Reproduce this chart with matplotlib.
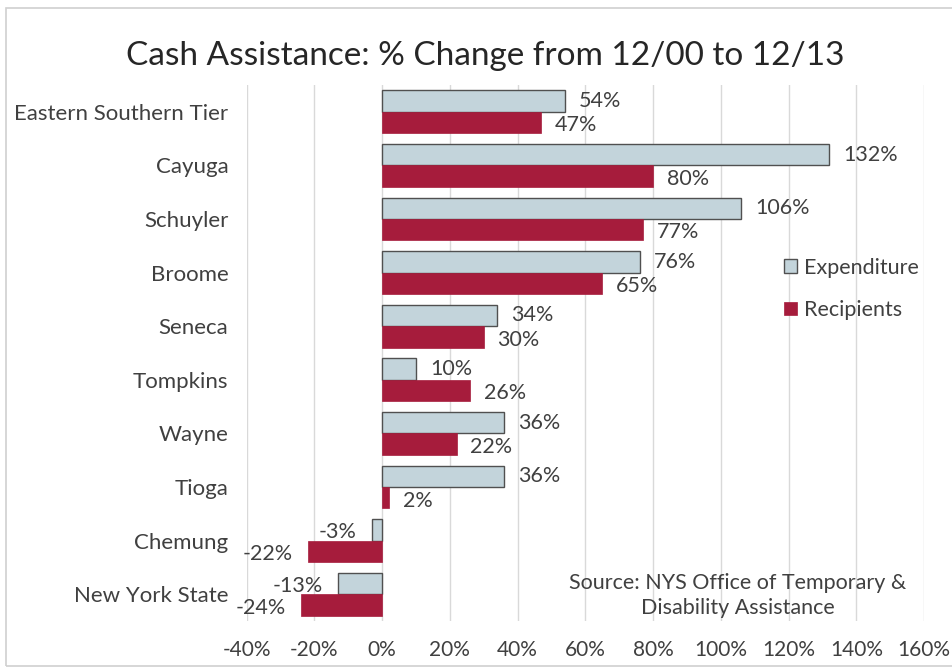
import numpy as np
import matplotlib.pyplot as plt
from matplotlib.patches import Rectangle

# Data
regions = ["Eastern Southern Tier", "Cayuga", "Schuyler", "Broome", "Seneca",
           "Tompkins", "Wayne", "Tioga", "Chemung", "New York State"]
expenditure = [54, 132, 106, 76, 34, 10, 36, 36, -3, -13]
recipients = [47, 80, 77, 65, 30, 26, 22, 2, -22, -24]
x_ticks = [-40, -20, 0, 20, 40, 60, 80, 100, 120, 140, 160]

exp_color = "#C3D4DB"
rec_color = "#A61C3C"
text_color = "#404040"

plt.rcParams["font.family"] = ["Lato", "DejaVu Sans"]

fig = plt.figure(figsize=(9.52, 6.69), dpi=100)
# light frame round the chart
fig.patches.append(Rectangle((0.006, 0.005), 1.2, 0.983, transform=fig.transFigure,
                             fill=False, edgecolor="#D0D0D0", linewidth=1.2))

ax = fig.add_axes([0.259, 0.0717, 0.7117, 0.8013])
y = np.arange(len(regions))
h = 0.4

ax.barh(y - h / 2, expenditure, height=h, color=exp_color, edgecolor="#505050",
        linewidth=1.0, label="Expenditure", zorder=3)
ax.barh(y + h / 2, recipients, height=h, color=rec_color, edgecolor=rec_color,
        linewidth=0.5, label="Recipients", zorder=3)

# value labels
for i, v in enumerate(expenditure):
    off = 10 if v >= 0 else -11
    ha = "left" if v >= 0 else "right"
    dy = 0 if v >= 0 else -1.5
    ax.annotate(f"{v}%", (v, i - h / 2), xytext=(off, dy), textcoords="offset points",
                ha=ha, va="center", fontsize=15.5, color=text_color, zorder=4)
for i, v in enumerate(recipients):
    off = 10 if v >= 0 else -11
    ha = "left" if v >= 0 else "right"
    ax.annotate(f"{v}%", (v, i + h / 2), xytext=(off, -2), textcoords="offset points",
                ha=ha, va="center", fontsize=15.5, color=text_color, zorder=4)

ax.set_xlim(-40, 160)
ax.set_ylim(len(regions) - 0.5, -0.5)
ax.set_xticks(x_ticks)
ax.set_xticklabels([f"{t}%" for t in x_ticks])
ax.set_yticks(y)
ax.set_yticklabels(regions)
ax.tick_params(axis="x", length=0, labelsize=15, labelcolor=text_color, pad=14)
ax.tick_params(axis="y", length=0, labelsize=16, labelcolor=text_color, pad=13)
ax.grid(axis="x", color="#D9D9D9", linewidth=1.0, zorder=0)
for s in ax.spines.values():
    s.set_visible(False)

fig.text(0.51, 0.916, "Cash Assistance: % Change from 12/00 to 12/13", ha="center",
         va="center", fontsize=24, color="#262626")

leg = ax.legend(loc="upper left", bbox_to_anchor=(0.803, 0.644), bbox_transform=fig.transFigure,
                frameon=False, fontsize=15.5, handlelength=0.6, handleheight=0.6,
                handletextpad=0.35, labelspacing=1.05)
for t in leg.get_texts():
    t.set_color(text_color)

fig.text(0.775, 0.11, "Source: NYS Office of Temporary &\nDisability Assistance", ha="center",
         va="center", fontsize=15.5, color=text_color, linespacing=1.35)

fig.savefig("out.png", dpi=100)
